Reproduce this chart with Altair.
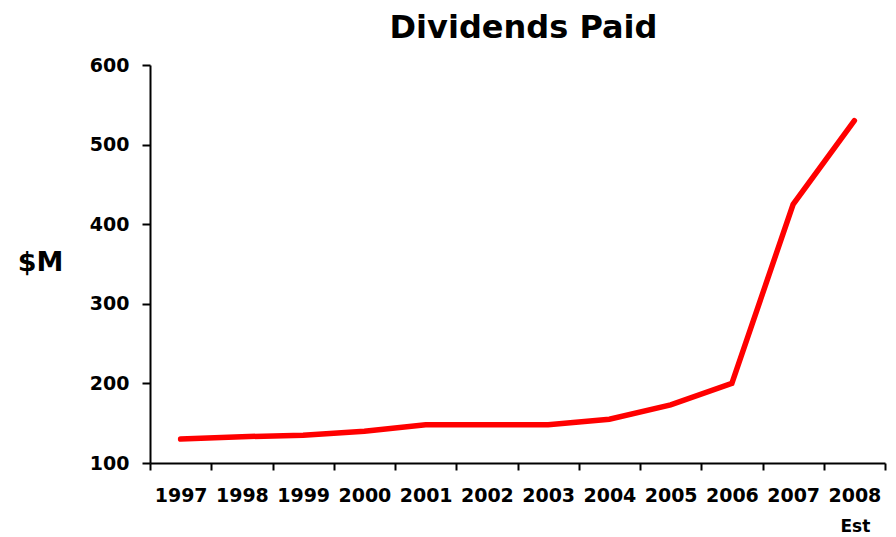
import altair as alt
import pandas as pd

years = ["1997", "1998", "1999", "2000", "2001", "2002", "2003", "2004", "2005", "2006", "2007", "2008"]
dividends = [130, 133, 135, 140, 148, 148, 148, 155, 173, 200, 425, 530]
y_ticks = [100, 200, 300, 400, 500, 600]
note_year = ["2008"]
note_text = ["Est"]

FONT = "DejaVu Sans"

df = pd.DataFrame({"year": years, "value": dividends})
note_df = pd.DataFrame({"year": note_year, "note": note_text})

x_scale = alt.Scale(type="band", paddingInner=0, paddingOuter=0, domain=years)

line = alt.Chart(df).mark_line(color="#FF0000", strokeWidth=5.5, strokeCap="round", strokeJoin="miter").encode(
    x=alt.X("year:O", scale=x_scale, bandPosition=0.5,
            axis=alt.Axis(title=None, labelAngle=0, tickBand="extent", tickSize=7, tickWidth=2,
                          domainWidth=2, domainColor="black", tickColor="black",
                          labelFont=FONT, labelFontSize=19, labelFontWeight="bold", labelColor="black",
                          labelPadding=16)),
    y=alt.Y("value:Q", scale=alt.Scale(domain=[100, 600], nice=False, zero=False),
            axis=alt.Axis(values=y_ticks, grid=False, title="$M", titleAngle=0, titleX=-110, titleY=197,
                          titleAlign="center", titleBaseline="middle", titleFont=FONT, titleFontSize=27,
                          titleFontWeight="bold", titleColor="black",
                          tickSize=8, tickWidth=2, domainWidth=2, domainColor="black", tickColor="black",
                          labelFont=FONT, labelFontSize=19, labelFontWeight="bold", labelColor="black",
                          labelPadding=13)),
)

note = alt.Chart(note_df).mark_text(font=FONT, fontSize=17, fontWeight="bold", baseline="alphabetic",
                                   color="black", dx=1).encode(
    x=alt.X("year:O", scale=x_scale, bandPosition=0.5),
    y=alt.value(467),
    text="note:N",
)

chart = alt.layer(line, note).properties(
    width=735,
    height=398,
    background="white",
    title=alt.TitleParams("Dividends Paid", font=FONT, fontSize=32, fontWeight="bold", color="black",
                          anchor="middle", offset=11, dx=6),
    autosize=alt.AutoSizeParams(type="none"),
    padding={"left": 150, "top": 65, "right": 11, "bottom": 74},
).configure_view(strokeWidth=0, stroke="transparent")

chart.save("out.html", embed_options={"renderer": "svg", "actions": False})
